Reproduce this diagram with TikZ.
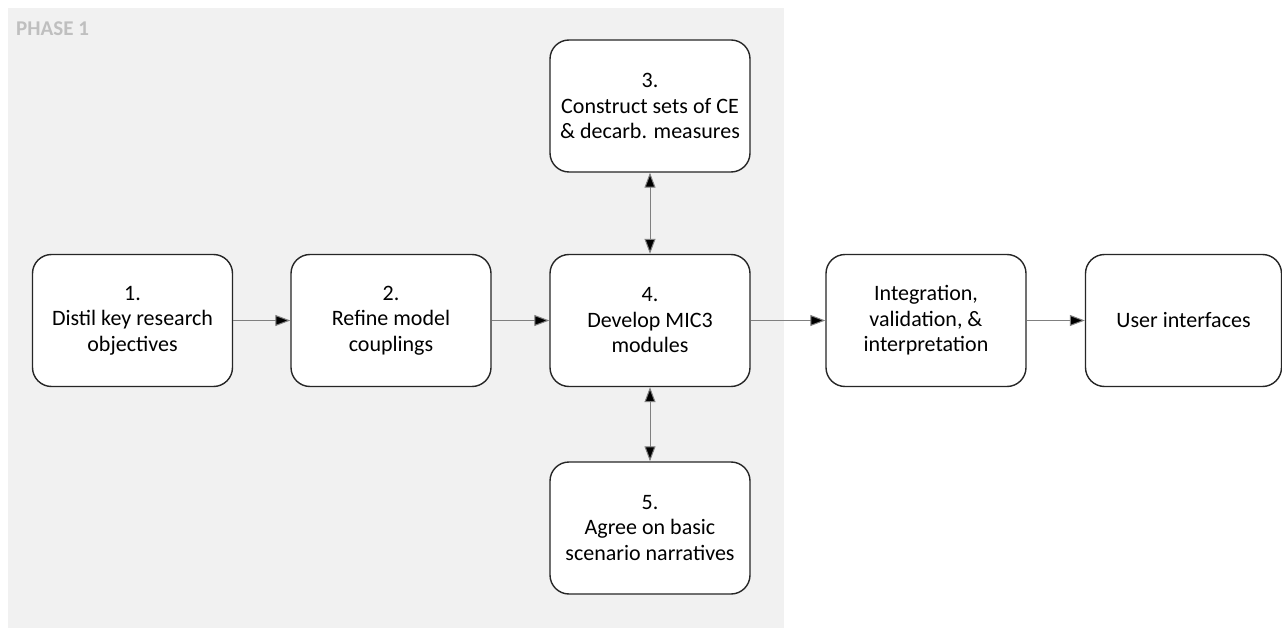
\documentclass[tikz,border=0pt]{standalone}
\usepackage{fontspec}
\setmainfont{Carlito}
\usetikzlibrary{arrows.meta}
\definecolor{phasebg}{HTML}{F1F1F1}
\definecolor{phasetxt}{HTML}{BFBFBF}
\definecolor{linkgray}{HTML}{808080}
\tikzset{
  stepbox/.style={draw=black!85, line width=1.4pt, rounded corners=19pt, fill=white,
    minimum width=200pt, minimum height=132pt, align=center, inner sep=2pt,
    font=\fontsize{22}{25.5}\selectfont},
  link/.style={draw=linkgray, line width=1pt, -{Triangle[length=15pt,width=11pt,fill=black]}},
  dlink/.style={draw=linkgray, line width=1pt, {Triangle[length=15pt,width=11pt,fill=black]}-{Triangle[length=15pt,width=11pt,fill=black]}}
}
\begin{document}
\begin{tikzpicture}[x=1pt,y=-1pt]
\useasboundingbox (0,0) rectangle (1282,628);
\fill[white] (0,0) rectangle (1282,628);
\fill[phasebg] (8,8) rectangle (784,628);
\node[anchor=base west, text=phasetxt, font=\fontsize{21}{24}\selectfont\bfseries, inner sep=0pt] (phase) at (16,35.5) {PHASE 1};
\node[stepbox] (s1) at (132.5,320.5) {1.\\Distil key research\\objectives};
\node[stepbox] (s2) at (391,320.5) {2.\\Refine model\\couplings};
\node[stepbox] (s4) at (650,320.5) {4.\\Develop MIC3\\modules};
\node[stepbox] (s3) at (650,106) {3.\\Construct sets of CE\\\& decarb. measures};
\node[stepbox] (s5) at (650,528) {5.\\Agree on basic\\scenario narratives};
\node[stepbox] (s6) at (926,320.5) {Integration,\\validation, \&\\interpretation};
\node[stepbox, minimum width=196pt] (s7) at (1183.5,320.5) {User interfaces};
\draw[link] (s1) -- (s2);
\draw[link] (s2) -- (s4);
\draw[link] (s4) -- (s6);
\draw[link] (s6) -- (s7);
\draw[dlink] (s3) -- (s4);
\draw[dlink] (s4) -- (s5);
\end{tikzpicture}
\end{document}
